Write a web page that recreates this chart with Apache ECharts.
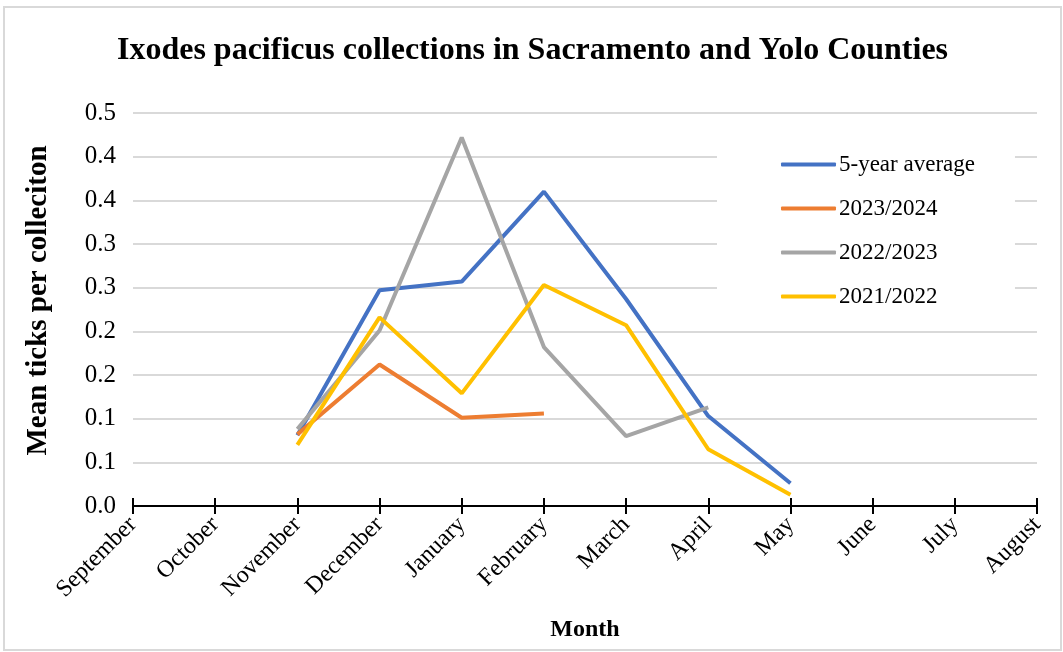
<!DOCTYPE html>
<html>
<head>
<meta charset="utf-8">
<script src="https://cdn.jsdelivr.net/npm/echarts@6/dist/echarts.min.js"></script>
<style>
  html, body { margin: 0; padding: 0; background: #fff; }
  #chart { position: absolute; left: 3px; top: 6px; width: 1055px; height: 641px; border: 2px solid #d9d9d9; }
</style>
</head>
<body>
<div id="chart"></div>
<script>
// months on the x axis
const months = ['September', 'October', 'November', 'December', 'January', 'February',
  'March', 'April', 'May', 'June', 'July', 'August'];
// y tick labels as printed (0.05 steps shown with one decimal)
const yTickLabels = ['0.0', '0.1', '0.1', '0.2', '0.2', '0.3', '0.3', '0.4', '0.4', '0.5'];

// mean ticks per collection
const avg5yr = [null, null, 0.081, 0.247, 0.257, 0.360, 0.237, 0.103, 0.026, null, null, null];
const y2023 = [null, null, 0.082, 0.162, 0.101, 0.106, null, null, null, null, null, null];
const y2022 = [null, null, 0.088, 0.201, 0.422, 0.182, 0.080, 0.113, null, null, null, null];
const y2021 = [null, null, 0.070, 0.216, 0.129, 0.253, 0.207, 0.065, 0.013, null, null, null];

const chart = echarts.init(document.getElementById('chart'));
const serif = '"Liberation Serif", "Times New Roman", serif';

function line(name, data, color) {
  return {
    name: name,
    type: 'line',
    data: data,
    symbol: 'none',
    connectNulls: false,
    lineStyle: { color: color, width: 4 },
    itemStyle: { color: color },
  };
}

chart.setOption({
  animation: false,
  textStyle: { fontFamily: serif, color: '#000' },
  title: {
    text: 'Ixodes pacificus collections in Sacramento and Yolo Counties',
    left: 'center',
    top: 22,
    textStyle: { fontFamily: serif, fontSize: 32, fontWeight: 'bold', color: '#000' },
  },
  legend: {
    orient: 'vertical',
    left: 712,
    top: 127,
    backgroundColor: '#fff',
    padding: [18, 40, 18, 64],
    itemGap: 21,
    icon: 'roundRect',
    itemWidth: 55,
    itemHeight: 4,
    textStyle: { fontFamily: serif, fontSize: 23, color: '#000', padding: [0, 0, 0, -2], lineHeight: 22 },
    data: ['5-year average', '2023/2024', '2022/2023', '2021/2022'],
  },
  grid: { left: 128, right: 23, top: 105, bottom: 143 },
  xAxis: [{
    type: 'category',
    data: months,
    boundaryGap: false,
    name: 'Month',
    nameLocation: 'middle',
    nameGap: 112,
    nameTextStyle: { fontFamily: serif, fontSize: 24, fontWeight: 'bold', color: '#000' },
    axisLine: { lineStyle: { color: '#000', width: 2 } },
    axisTick: { show: true, length: 8, lineStyle: { color: '#000', width: 2 } },
    axisLabel: { rotate: 45, fontFamily: serif, fontSize: 24, color: '#000', margin: 15, interval: 0 },
  }, {
    type: 'category',
    data: months,
    boundaryGap: false,
    position: 'bottom',
    axisLine: { show: false },
    axisTick: { show: true, inside: true, length: 8, lineStyle: { color: '#000', width: 2 } },
    axisLabel: { show: false },
  }],
  yAxis: {
    type: 'value',
    min: 0,
    max: 0.45,
    interval: 0.05,
    name: 'Mean ticks per colleciton',
    nameLocation: 'middle',
    nameGap: 80,
    nameTextStyle: { fontFamily: serif, fontSize: 29, fontWeight: 'bold', color: '#000', padding: [0, 0, 0, 18] },
    axisLine: { show: false },
    axisTick: { show: false },
    splitLine: { lineStyle: { color: '#d9d9d9', width: 2 } },
    axisLabel: {
      fontFamily: serif, fontSize: 25, color: '#000', margin: 17,
      formatter: function (v) { return yTickLabels[Math.round(v / 0.05)]; },
    },
  },
  series: [
    line('5-year average', avg5yr, '#4472C4'),
    line('2023/2024', y2023, '#ED7D31'),
    line('2022/2023', y2022, '#A5A5A5'),
    line('2021/2022', y2021, '#FFC000'),
  ],
});
</script>
</body>
</html>
